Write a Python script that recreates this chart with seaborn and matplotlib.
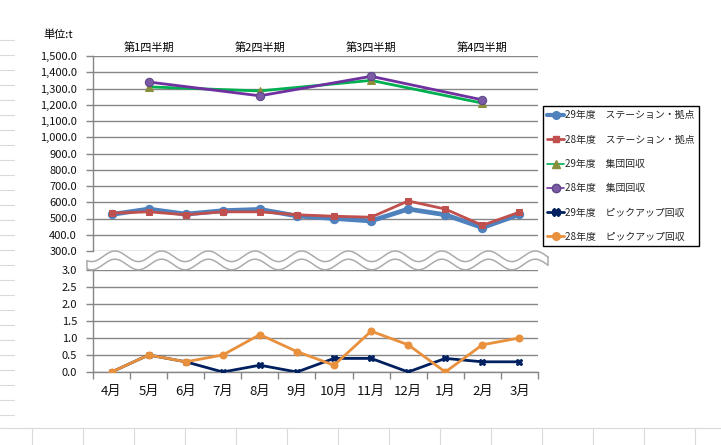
import numpy as np
import pandas as pd
import matplotlib
matplotlib.use("Agg")
import matplotlib.pyplot as plt
from matplotlib.lines import Line2D
from matplotlib.ticker import FixedLocator, FuncFormatter
import seaborn as sns

# ---------------- data ----------------
months = ["4月", "5月", "6月", "7月", "8月", "9月", "10月", "11月", "12月", "1月", "2月", "3月"]
station29 = [525, 558, 527, 548, 556, 516, 500, 485, 558, 523, 444, 525]
station28 = [533, 541, 523, 541, 541, 523, 514, 508, 608, 558, 458, 539]
group_months = ["5月", "8月", "11月", "2月"]
group29 = [1310, 1285, 1350, 1210]
group28 = [1340, 1255, 1375, 1230]
pickup29 = [0.0, 0.5, 0.3, 0.0, 0.2, 0.0, 0.4, 0.4, 0.0, 0.4, 0.3, 0.3]
pickup28 = [0.0, 0.5, 0.3, 0.5, 1.1, 0.6, 0.2, 1.2, 0.8, 0.0, 0.8, 1.0]
quarters = ["第1四半期", "第2四半期", "第3四半期", "第4四半期"]
top_ticks = [300, 400, 500, 600, 700, 800, 900, 1000, 1100, 1200, 1300, 1400, 1500]
bottom_ticks = [0.0, 0.5, 1.0, 1.5, 2.0, 2.5, 3.0]
labels = ["29年度　ステーション・拠点", "28年度　ステーション・拠点",
          "29年度　集団回収", "28年度　集団回収",
          "29年度　ピックアップ回収", "28年度　ピックアップ回収"]
unit_label = "単位:t"

# ---------------- style ----------------
sns.set_theme(style="white")
plt.rcParams["font.family"] = ["Noto Sans CJK JP", "DejaVu Sans"]

W, H = 721, 445
fig = plt.figure(figsize=(W / 100, H / 100), dpi=100)
fig.patch.set_facecolor("white")

def fx(px):
    return px / W

def fy(py):
    return 1 - py / H

left, right = 93, 538
ax_top = fig.add_axes([fx(left), fy(251), fx(right - left), fy(56) - fy(251)])
ax_bot = fig.add_axes([fx(left), fy(372), fx(right - left), fy(270) - fy(372)])

idx = {m: i for i, m in enumerate(months)}
x_all = np.arange(len(months))
x_grp = np.array([idx[m] for m in group_months])

grid_c = "#868686"

# ---------------- top axes ----------------
sns.lineplot(x=x_all, y=station29, ax=ax_top, color="#4F81BD", lw=3.4,
             marker="o", markersize=6, markeredgecolor="#4F81BD", label=labels[0], zorder=3)
sns.lineplot(x=x_all, y=station28, ax=ax_top, color="#C0504D", lw=2,
             marker="s", markersize=5, markeredgecolor="#C0504D", label=labels[1], zorder=4)
sns.lineplot(x=x_grp, y=group29, ax=ax_top, color="#00B050", lw=2,
             marker="^", markersize=6, markerfacecolor="#8A8F3C", markeredgecolor="#8A8F3C",
             label=labels[2], zorder=3)
sns.lineplot(x=x_grp, y=group28, ax=ax_top, color="#7030A0", lw=2,
             marker="o", markersize=6, markerfacecolor="#7B5AA6", markeredgecolor="#5E4785",
             label=labels[3], zorder=4)

ax_top.set_xlim(-0.5, len(months) - 0.5)
ax_top.set_ylim(300, 1500)
ax_top.yaxis.set_major_locator(FixedLocator(top_ticks))
ax_top.yaxis.set_major_formatter(FuncFormatter(lambda v, p: f"{v:,.1f}"))
ax_top.set_xticks([])
ax_top.grid(axis="y", color=grid_c, lw=1)
ax_top.set_axisbelow(True)

# ---------------- bottom axes ----------------
sns.lineplot(x=x_all, y=pickup29, ax=ax_bot, color="#002060", lw=2,
             marker="X", markersize=5, markeredgecolor="#002060", label=labels[4], zorder=3)
sns.lineplot(x=x_all, y=pickup28, ax=ax_bot, color="#E8903C", lw=2,
             marker="o", markersize=5, markeredgecolor="#E8903C", label=labels[5], zorder=4)

ax_bot.set_xlim(-0.5, len(months) - 0.5)
ax_bot.set_ylim(0, 3)
ax_bot.yaxis.set_major_locator(FixedLocator(bottom_ticks))
ax_bot.yaxis.set_major_formatter(FuncFormatter(lambda v, p: f"{v:.1f}"))
ax_bot.set_xticks(x_all)
ax_bot.set_xticklabels(months)
ax_bot.set_xticks(np.arange(-0.5, len(months)), minor=True)
ax_bot.grid(axis="y", color=grid_c, lw=1)
ax_bot.set_axisbelow(True)

for ax in (ax_top, ax_bot):
    ax.set_xlabel("")
    ax.set_ylabel("")
    ax.set_facecolor("none")
    if ax.get_legend() is not None:
        ax.get_legend().remove()
    for s in ("top", "right"):
        ax.spines[s].set_visible(False)
    ax.spines["left"].set_color(grid_c)
    ax.spines["left"].set_linewidth(1)
    ax.tick_params(axis="y", which="major", direction="out", length=5, width=1,
                   color=grid_c, pad=6.5, labelsize=8, labelcolor="#111111", left=True)

ax_top.spines["bottom"].set_visible(False)
ax_bot.spines["bottom"].set_color(grid_c)
ax_bot.spines["bottom"].set_linewidth(1)
ax_bot.tick_params(axis="x", which="major", length=0, pad=9, labelsize=9.5, labelcolor="#111111")
ax_bot.tick_params(axis="x", which="minor", direction="out", length=5, width=1,
                   color=grid_c, bottom=True)

# quarter labels
q_y = 1500 + (56 - 47) / 0.1625
for q, xi in zip(quarters, x_grp):
    t = ax_top.text(xi, q_y, q, ha="center", va="center", fontsize=8, color="black")
    t.set_clip_on(False)

fig.text(fx(58), fy(35), unit_label, ha="center", va="center", fontsize=8, color="black")

# ---------------- wave break ----------------
xs = np.linspace(87, 548, 600)
y_up = 256.3 - 5.3 * np.cos(2 * np.pi * (xs - 115) / 46.7)
y_lo = y_up + 8.2
wave_c = "#ABABAB"
fig.add_artist(Line2D(fx(xs), fy(y_up), transform=fig.transFigure, color=wave_c, lw=1.1))
fig.add_artist(Line2D(fx(xs), fy(y_lo), transform=fig.transFigure, color=wave_c, lw=1.1))
for i in (0, -1):
    fig.add_artist(Line2D([fx(xs[i]), fx(xs[i])], [fy(y_up[i]), fy(y_lo[i])],
                          transform=fig.transFigure, color=wave_c, lw=1.1))

# ---------------- legend ----------------
handles = [
    Line2D([], [], color="#4F81BD", lw=3, marker="o", markersize=5.5),
    Line2D([], [], color="#C0504D", lw=2, marker="s", markersize=5),
    Line2D([], [], color="#00B050", lw=1.2, marker="^", markersize=6,
           markerfacecolor="#8A8F3C", markeredgecolor="#8A8F3C"),
    Line2D([], [], color="#7030A0", lw=1.2, marker="o", markersize=6,
           markerfacecolor="#7B5AA6", markeredgecolor="#5E4785"),
    Line2D([], [], color="#002060", lw=2, marker="X", markersize=6),
    Line2D([], [], color="#E8903C", lw=2, marker="o", markersize=5.5),
]
leg = fig.legend(handles, labels, loc="upper left", bbox_to_anchor=(fx(543), fy(106)),
                 frameon=True, fancybox=False, framealpha=1, edgecolor="black",
                 fontsize=7.1, labelspacing=1.45, handlelength=1.7, handletextpad=0.1,
                 borderpad=0.45, borderaxespad=0)
leg.get_frame().set_linewidth(1)

# faint spreadsheet cell lines around the chart object
cell_c = "#D9D9D9"
for yy in range(40, 425, 15):
    fig.add_artist(Line2D([0, fx(14)], [fy(yy), fy(yy)], transform=fig.transFigure,
                          color=cell_c, lw=0.8))
fig.add_artist(Line2D([0, 1], [fy(428), fy(428)], transform=fig.transFigure, color=cell_c, lw=0.8))
for xx in range(32, 721, 51):
    fig.add_artist(Line2D([fx(xx), fx(xx)], [fy(428), 0], transform=fig.transFigure,
                          color=cell_c, lw=0.8))

fig.savefig("out.png", dpi=100, facecolor="white")
